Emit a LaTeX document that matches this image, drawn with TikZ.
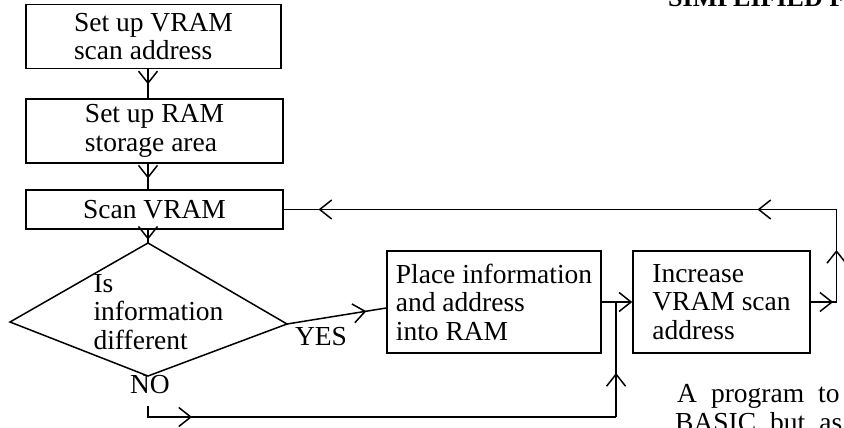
\documentclass[tikz,border=0pt]{standalone}
\usepackage{fontspec}
\setmainfont{Liberation Serif}
\usetikzlibrary{arrows.meta,decorations.markings,calc}
\newcommand{\widespace}{\spaceskip=14pt\relax}
\tikzset{
  x=1pt, y=-1pt,
  barb/.tip={Straight Barb[length=12pt,width=19pt,line width=1.5pt]},
  box/.style={draw, line width=1.5pt, align=left, inner sep=0pt, font=\fontsize{27.5}{28.5}\selectfont},
  conn/.style={line width=1.5pt},
  midarr/.style={postaction={decorate}, decoration={markings, mark=at position #1 with {\arrow{barb}}}},
  lbl/.style={font=\fontsize{27.5}{28.5}\selectfont, inner sep=0pt},
  prose/.style={font=\fontsize{27.5}{28.5}\selectfont\widespace, inner sep=0pt, anchor=base west},
}
\begin{document}
\begin{tikzpicture}
\useasboundingbox (0,0) rectangle (844,428);
\clip (0,0) rectangle (844,428);
% boxes
\node[box, minimum width=255pt, minimum height=64pt] (b1) at (153.5,36.5) {Set up VRAM\\scan address};
\node[box, minimum width=257pt, minimum height=64pt] (b2) at (154.5,131) {Set up RAM\\storage area};
\node[box, minimum width=257pt, minimum height=39pt] (b3) at (154.5,209.5) {Scan VRAM};
\node[box, minimum width=214pt, minimum height=102pt] (b4) at (494,302) {Place information\\and address\\into RAM};
\node[box, minimum width=177pt, minimum height=102pt] (b5) at (721.5,302) {Increase\\VRAM scan\\address};
% decision diamond
\coordinate (dt) at (148,243);
\coordinate (dr) at (287,324);
\coordinate (db) at (148,376);
\coordinate (dl) at (10,322);
\draw[conn, line join=miter] (dt) -- (dr) -- (db) -- (dl) -- cycle;
\node[lbl, align=left] (dtext) at (158.5,312) {Is\\information\\different};
% labels
\node[lbl, anchor=base] (yes) at (321,345) {YES};
\node[lbl, anchor=base] (no) at (150,393) {NO};
% connectors
\draw[conn, midarr=0.52] (b1.south -| dt) -- (b2.north -| dt);
\draw[conn, midarr=0.58] (b2.south -| dt) -- (b3.north -| dt);
\draw[conn, midarr=0.75] (b3.south -| dt) -- (dt);
\draw[conn, midarr=0.8] (dr) -- ($(b4.west)+(0,6)$);
\draw[conn, -barb] (b4.east) -- (b5.west);
% NO branch
\coordinate (jt) at ($(b4.east)!0.47!(b5.west)$);
\coordinate (n0) at (148,406);
\coordinate (n1) at (148,417);
\coordinate (n2) at (jt |- n1);
\draw[conn, midarr=55pt] (n0) -- (n1) -- (n2);
\draw[conn, midarr=44pt] (n2) -- (jt);
% loop back
\coordinate (r1) at (836.5,302);
\coordinate (r2) at (r1 |- b3.east);
\draw[conn, midarr=0.87] (b5.east) -- (r1);
\draw[conn, midarr=52pt] (r1) -- (r2);
\draw[conn, postaction={decorate}, decoration={markings,
   mark=at position 79pt with {\arrow{barb}},
   mark=at position 518pt with {\arrow{barb}}}] (r2) -- (b3.east);
% surrounding text
\node[anchor=base west, inner sep=0pt, font=\bfseries\fontsize{26}{28}\selectfont] (title) at (668,7) {SIMPLIFIED F};
\node[prose] (p1) at (677,402) {A program to};
\node[prose] (p2) at (675,431) {BASIC but as};
\end{tikzpicture}
\end{document}
